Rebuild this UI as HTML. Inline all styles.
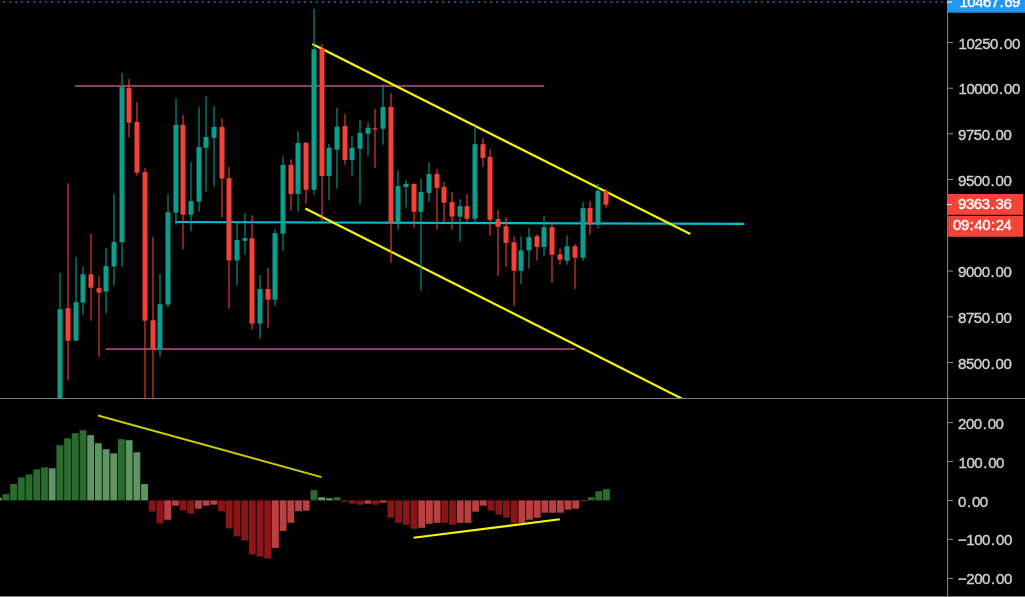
<!DOCTYPE html>
<html><head><meta charset="utf-8"><title>chart</title>
<style>
html,body{margin:0;padding:0;background:#000;overflow:hidden}
svg{display:block}
text{font-family:"Liberation Sans","DejaVu Sans",sans-serif}
.al{font-size:15px;fill:#d0d0d0;stroke:#d0d0d0;stroke-width:0.4px;letter-spacing:-0.45px}
.pl{font-size:15px;fill:#fff;stroke:#fff;stroke-width:0.4px;letter-spacing:-0.45px}
</style></head><body>
<svg width="1025" height="597" viewBox="0 0 1025 597">
<rect width="1025" height="597" fill="#000"/>
<defs><clipPath id="mp"><rect x="0" y="0" width="947" height="398.3"/></clipPath></defs>
<!-- dotted price line -->
<line x1="3.25" y1="2" x2="947" y2="2" stroke="#185a90" stroke-width="2" stroke-dasharray="1.9 4.113"/>
<g clip-path="url(#mp)">
<!-- horizontal levels -->
<rect x="75" y="85" width="469.2" height="2.1" fill="#883e68"/>
<rect x="105.7" y="348" width="469.3" height="2.1" fill="#883e68"/>
<line x1="175" y1="222" x2="744.1" y2="223.9" stroke="#00bcd4" stroke-width="2.1"/>
<line x1="312.3" y1="44.1" x2="690.3" y2="234" stroke="#f7f700" stroke-width="2.2"/>
<line x1="305.3" y1="208.4" x2="683" y2="399.2" stroke="#f7f700" stroke-width="2.2"/>
<rect x="59.10" y="273.0" width="1.8" height="125.5" fill="#0d9d8c" opacity="0.6"/>
<rect x="57.50" y="309.2" width="5.0" height="89.3" fill="#0d9d8c"/>
<rect x="67.10" y="183.1" width="1.8" height="197.5" fill="#f44336" opacity="0.6"/>
<rect x="65.50" y="308.2" width="5.0" height="32.5" fill="#f44336"/>
<rect x="75.10" y="257.1" width="1.8" height="83.6" fill="#0d9d8c" opacity="0.6"/>
<rect x="73.50" y="302.2" width="5.0" height="38.5" fill="#0d9d8c"/>
<rect x="82.10" y="266.1" width="1.8" height="48.5" fill="#0d9d8c" opacity="0.6"/>
<rect x="80.50" y="274.3" width="5.0" height="28.3" fill="#0d9d8c"/>
<rect x="90.10" y="234.0" width="1.8" height="86.7" fill="#f44336" opacity="0.6"/>
<rect x="88.50" y="274.3" width="5.0" height="13.4" fill="#f44336"/>
<rect x="98.10" y="276.0" width="1.8" height="80.8" fill="#f44336" opacity="0.6"/>
<rect x="96.50" y="288.1" width="5.0" height="4.6" fill="#f44336"/>
<rect x="105.10" y="248.0" width="1.8" height="65.6" fill="#0d9d8c" opacity="0.6"/>
<rect x="103.50" y="266.1" width="5.0" height="25.4" fill="#0d9d8c"/>
<rect x="113.10" y="194.2" width="1.8" height="91.3" fill="#0d9d8c" opacity="0.6"/>
<rect x="111.50" y="242.0" width="5.0" height="24.5" fill="#0d9d8c"/>
<rect x="121.10" y="73.1" width="1.8" height="193.4" fill="#0d9d8c" opacity="0.6"/>
<rect x="119.50" y="87.1" width="5.0" height="155.3" fill="#0d9d8c"/>
<rect x="128.10" y="79.1" width="1.8" height="58.3" fill="#f44336" opacity="0.6"/>
<rect x="126.50" y="88.1" width="5.0" height="34.6" fill="#f44336"/>
<rect x="136.10" y="102.2" width="1.8" height="73.4" fill="#f44336" opacity="0.6"/>
<rect x="134.50" y="121.9" width="5.0" height="50.8" fill="#f44336"/>
<rect x="144.10" y="168.0" width="1.8" height="230.5" fill="#f44336" opacity="0.6"/>
<rect x="142.50" y="172.1" width="5.0" height="148.6" fill="#f44336"/>
<rect x="152.10" y="237.0" width="1.8" height="161.5" fill="#f44336" opacity="0.6"/>
<rect x="150.50" y="320.3" width="5.0" height="29.5" fill="#f44336"/>
<rect x="159.10" y="274.0" width="1.8" height="82.8" fill="#0d9d8c" opacity="0.6"/>
<rect x="157.50" y="304.2" width="5.0" height="45.6" fill="#0d9d8c"/>
<rect x="167.10" y="194.2" width="1.8" height="113.4" fill="#0d9d8c" opacity="0.6"/>
<rect x="165.50" y="212.3" width="5.0" height="92.3" fill="#0d9d8c"/>
<rect x="175.10" y="98.2" width="1.8" height="126.5" fill="#0d9d8c" opacity="0.6"/>
<rect x="173.50" y="124.9" width="5.0" height="87.8" fill="#0d9d8c"/>
<rect x="182.10" y="114.9" width="1.8" height="134.5" fill="#f44336" opacity="0.6"/>
<rect x="180.50" y="124.9" width="5.0" height="89.8" fill="#f44336"/>
<rect x="190.10" y="162.0" width="1.8" height="69.4" fill="#0d9d8c" opacity="0.6"/>
<rect x="188.50" y="201.2" width="5.0" height="13.5" fill="#0d9d8c"/>
<rect x="198.10" y="107.2" width="1.8" height="104.5" fill="#0d9d8c" opacity="0.6"/>
<rect x="196.50" y="147.0" width="5.0" height="54.6" fill="#0d9d8c"/>
<rect x="205.10" y="96.2" width="1.8" height="95.4" fill="#0d9d8c" opacity="0.6"/>
<rect x="203.50" y="137.0" width="5.0" height="10.8" fill="#0d9d8c"/>
<rect x="213.10" y="106.2" width="1.8" height="80.3" fill="#0d9d8c" opacity="0.6"/>
<rect x="211.50" y="126.9" width="5.0" height="10.9" fill="#0d9d8c"/>
<rect x="221.10" y="118.3" width="1.8" height="99.4" fill="#f44336" opacity="0.6"/>
<rect x="219.50" y="126.9" width="5.0" height="51.6" fill="#f44336"/>
<rect x="228.10" y="167.0" width="1.8" height="141.6" fill="#f44336" opacity="0.6"/>
<rect x="226.50" y="178.1" width="5.0" height="82.4" fill="#f44336"/>
<rect x="236.10" y="222.3" width="1.8" height="63.2" fill="#0d9d8c" opacity="0.6"/>
<rect x="234.50" y="240.0" width="5.0" height="20.5" fill="#0d9d8c"/>
<rect x="244.10" y="213.3" width="1.8" height="41.3" fill="#0d9d8c" opacity="0.6"/>
<rect x="242.50" y="238.1" width="5.0" height="2.7" fill="#0d9d8c"/>
<rect x="251.10" y="215.2" width="1.8" height="114.4" fill="#f44336" opacity="0.6"/>
<rect x="249.50" y="238.3" width="5.0" height="85.3" fill="#f44336"/>
<rect x="259.10" y="275.0" width="1.8" height="63.6" fill="#0d9d8c" opacity="0.6"/>
<rect x="257.50" y="289.0" width="5.0" height="34.6" fill="#0d9d8c"/>
<rect x="267.10" y="267.9" width="1.8" height="59.7" fill="#f44336" opacity="0.6"/>
<rect x="265.50" y="289.0" width="5.0" height="10.7" fill="#f44336"/>
<rect x="274.10" y="229.1" width="1.8" height="76.6" fill="#0d9d8c" opacity="0.6"/>
<rect x="272.50" y="233.2" width="5.0" height="66.5" fill="#0d9d8c"/>
<rect x="282.10" y="156.3" width="1.8" height="94.4" fill="#0d9d8c" opacity="0.6"/>
<rect x="280.50" y="164.9" width="5.0" height="68.7" fill="#0d9d8c"/>
<rect x="290.10" y="159.3" width="1.8" height="51.2" fill="#f44336" opacity="0.6"/>
<rect x="288.50" y="164.9" width="5.0" height="29.0" fill="#f44336"/>
<rect x="297.10" y="131.2" width="1.8" height="80.3" fill="#0d9d8c" opacity="0.6"/>
<rect x="295.50" y="142.8" width="5.0" height="51.1" fill="#0d9d8c"/>
<rect x="305.10" y="141.8" width="1.8" height="61.9" fill="#f44336" opacity="0.6"/>
<rect x="303.50" y="142.8" width="5.0" height="47.0" fill="#f44336"/>
<rect x="313.10" y="9.0" width="1.8" height="185.9" fill="#0d9d8c" opacity="0.6"/>
<rect x="311.50" y="49.2" width="5.0" height="140.6" fill="#0d9d8c"/>
<rect x="321.10" y="44.2" width="1.8" height="177.3" fill="#f44336" opacity="0.6"/>
<rect x="319.50" y="48.6" width="5.0" height="127.4" fill="#f44336"/>
<rect x="328.10" y="143.8" width="1.8" height="56.7" fill="#0d9d8c" opacity="0.6"/>
<rect x="326.50" y="147.8" width="5.0" height="28.2" fill="#0d9d8c"/>
<rect x="336.10" y="108.0" width="1.8" height="80.8" fill="#0d9d8c" opacity="0.6"/>
<rect x="334.50" y="126.7" width="5.0" height="23.1" fill="#0d9d8c"/>
<rect x="344.10" y="114.1" width="1.8" height="50.6" fill="#f44336" opacity="0.6"/>
<rect x="342.50" y="126.1" width="5.0" height="33.8" fill="#f44336"/>
<rect x="351.10" y="136.2" width="1.8" height="39.8" fill="#0d9d8c" opacity="0.6"/>
<rect x="349.50" y="147.8" width="5.0" height="12.1" fill="#0d9d8c"/>
<rect x="359.10" y="120.1" width="1.8" height="83.7" fill="#0d9d8c" opacity="0.6"/>
<rect x="357.50" y="132.8" width="5.0" height="16.0" fill="#0d9d8c"/>
<rect x="367.10" y="122.1" width="1.8" height="33.8" fill="#0d9d8c" opacity="0.6"/>
<rect x="365.50" y="127.7" width="5.0" height="6.1" fill="#0d9d8c"/>
<rect x="374.10" y="109.0" width="1.8" height="58.9" fill="#f44336" opacity="0.6"/>
<rect x="372.50" y="128.2" width="5.0" height="1.2" fill="#f44336"/>
<rect x="382.10" y="84.4" width="1.8" height="60.4" fill="#0d9d8c" opacity="0.6"/>
<rect x="380.50" y="107.0" width="5.0" height="21.7" fill="#0d9d8c"/>
<rect x="390.10" y="93.1" width="1.8" height="169.6" fill="#f44336" opacity="0.6"/>
<rect x="388.50" y="107.0" width="5.0" height="115.5" fill="#f44336"/>
<rect x="397.10" y="170.4" width="1.8" height="59.3" fill="#0d9d8c" opacity="0.6"/>
<rect x="395.50" y="186.0" width="5.0" height="36.5" fill="#0d9d8c"/>
<rect x="405.10" y="180.0" width="1.8" height="27.5" fill="#0d9d8c" opacity="0.6"/>
<rect x="403.50" y="184.0" width="5.0" height="3.0" fill="#0d9d8c"/>
<rect x="413.10" y="183.0" width="1.8" height="44.7" fill="#f44336" opacity="0.6"/>
<rect x="411.50" y="184.0" width="5.0" height="27.8" fill="#f44336"/>
<rect x="420.10" y="179.0" width="1.8" height="111.9" fill="#0d9d8c" opacity="0.6"/>
<rect x="418.50" y="192.1" width="5.0" height="19.7" fill="#0d9d8c"/>
<rect x="428.10" y="162.3" width="1.8" height="39.5" fill="#0d9d8c" opacity="0.6"/>
<rect x="426.50" y="174.0" width="5.0" height="18.9" fill="#0d9d8c"/>
<rect x="436.10" y="168.9" width="1.8" height="60.7" fill="#f44336" opacity="0.6"/>
<rect x="434.50" y="174.0" width="5.0" height="13.8" fill="#f44336"/>
<rect x="443.10" y="182.0" width="1.8" height="40.6" fill="#f44336" opacity="0.6"/>
<rect x="441.50" y="186.8" width="5.0" height="15.8" fill="#f44336"/>
<rect x="451.10" y="192.0" width="1.8" height="37.6" fill="#f44336" opacity="0.6"/>
<rect x="449.50" y="202.1" width="5.0" height="14.6" fill="#f44336"/>
<rect x="459.10" y="199.0" width="1.8" height="42.7" fill="#0d9d8c" opacity="0.6"/>
<rect x="457.50" y="206.1" width="5.0" height="10.6" fill="#0d9d8c"/>
<rect x="466.10" y="194.0" width="1.8" height="27.6" fill="#f44336" opacity="0.6"/>
<rect x="464.50" y="206.1" width="5.0" height="12.7" fill="#f44336"/>
<rect x="474.10" y="126.1" width="1.8" height="96.1" fill="#0d9d8c" opacity="0.6"/>
<rect x="472.50" y="144.2" width="5.0" height="74.5" fill="#0d9d8c"/>
<rect x="482.10" y="138.2" width="1.8" height="28.7" fill="#f44336" opacity="0.6"/>
<rect x="480.50" y="144.2" width="5.0" height="13.7" fill="#f44336"/>
<rect x="489.10" y="149.2" width="1.8" height="86.4" fill="#f44336" opacity="0.6"/>
<rect x="487.50" y="156.9" width="5.0" height="62.8" fill="#f44336"/>
<rect x="497.10" y="210.1" width="1.8" height="65.7" fill="#f44336" opacity="0.6"/>
<rect x="495.50" y="219.1" width="5.0" height="7.7" fill="#f44336"/>
<rect x="505.10" y="217.1" width="1.8" height="49.7" fill="#f44336" opacity="0.6"/>
<rect x="503.50" y="226.2" width="5.0" height="16.7" fill="#f44336"/>
<rect x="513.10" y="236.2" width="1.8" height="69.8" fill="#f44336" opacity="0.6"/>
<rect x="511.50" y="242.3" width="5.0" height="28.5" fill="#f44336"/>
<rect x="520.10" y="236.2" width="1.8" height="47.7" fill="#0d9d8c" opacity="0.6"/>
<rect x="518.50" y="250.3" width="5.0" height="20.5" fill="#0d9d8c"/>
<rect x="528.10" y="228.2" width="1.8" height="40.6" fill="#0d9d8c" opacity="0.6"/>
<rect x="526.50" y="237.2" width="5.0" height="13.1" fill="#0d9d8c"/>
<rect x="536.10" y="234.2" width="1.8" height="26.6" fill="#f44336" opacity="0.6"/>
<rect x="534.50" y="236.2" width="5.0" height="10.7" fill="#f44336"/>
<rect x="543.10" y="216.1" width="1.8" height="39.6" fill="#0d9d8c" opacity="0.6"/>
<rect x="541.50" y="227.2" width="5.0" height="19.7" fill="#0d9d8c"/>
<rect x="551.10" y="222.2" width="1.8" height="60.7" fill="#f44336" opacity="0.6"/>
<rect x="549.50" y="227.2" width="5.0" height="27.5" fill="#f44336"/>
<rect x="559.10" y="248.3" width="1.8" height="16.5" fill="#f44336" opacity="0.6"/>
<rect x="557.50" y="254.3" width="5.0" height="5.4" fill="#f44336"/>
<rect x="566.10" y="235.2" width="1.8" height="29.6" fill="#0d9d8c" opacity="0.6"/>
<rect x="564.50" y="246.3" width="5.0" height="14.5" fill="#0d9d8c"/>
<rect x="574.10" y="243.9" width="1.8" height="45.0" fill="#f44336" opacity="0.6"/>
<rect x="572.50" y="246.3" width="5.0" height="11.4" fill="#f44336"/>
<rect x="582.10" y="202.1" width="1.8" height="58.7" fill="#0d9d8c" opacity="0.6"/>
<rect x="580.50" y="208.1" width="5.0" height="49.6" fill="#0d9d8c"/>
<rect x="589.10" y="201.1" width="1.8" height="33.5" fill="#f44336" opacity="0.6"/>
<rect x="587.50" y="208.1" width="5.0" height="16.5" fill="#f44336"/>
<rect x="597.10" y="184.0" width="1.8" height="44.6" fill="#0d9d8c" opacity="0.6"/>
<rect x="595.50" y="191.0" width="5.0" height="33.6" fill="#0d9d8c"/>
<rect x="605.10" y="189.0" width="1.8" height="18.8" fill="#f44336" opacity="0.6"/>
<rect x="603.50" y="191.0" width="5.0" height="13.7" fill="#f44336"/>
</g>
<!-- MACD -->
<rect x="0.00" y="497.5" width="1.68" height="2.9" fill="#5e9662"/>
<rect x="2.53" y="494.1" width="6.85" height="6.3" fill="#2b6b2e"/>
<rect x="10.23" y="484.0" width="6.85" height="16.4" fill="#2b6b2e"/>
<rect x="17.93" y="477.4" width="6.85" height="23.0" fill="#2b6b2e"/>
<rect x="25.62" y="474.4" width="6.85" height="26.0" fill="#2b6b2e"/>
<rect x="33.32" y="469.3" width="6.85" height="31.1" fill="#2b6b2e"/>
<rect x="41.02" y="467.3" width="6.85" height="33.1" fill="#2b6b2e"/>
<rect x="48.72" y="468.3" width="6.85" height="32.1" fill="#5e9662"/>
<rect x="56.42" y="445.2" width="6.85" height="55.2" fill="#2b6b2e"/>
<rect x="64.12" y="438.2" width="6.85" height="62.2" fill="#2b6b2e"/>
<rect x="71.82" y="433.2" width="6.85" height="67.2" fill="#2b6b2e"/>
<rect x="79.52" y="430.2" width="6.85" height="70.2" fill="#2b6b2e"/>
<rect x="87.22" y="435.2" width="6.85" height="65.2" fill="#5e9662"/>
<rect x="94.91" y="443.2" width="6.85" height="57.2" fill="#5e9662"/>
<rect x="102.61" y="449.2" width="6.85" height="51.2" fill="#5e9662"/>
<rect x="110.31" y="453.3" width="6.85" height="47.1" fill="#5e9662"/>
<rect x="118.01" y="439.2" width="6.85" height="61.2" fill="#2b6b2e"/>
<rect x="125.71" y="440.2" width="6.85" height="60.2" fill="#5e9662"/>
<rect x="133.41" y="452.3" width="6.85" height="48.1" fill="#5e9662"/>
<rect x="141.11" y="484.1" width="6.85" height="16.3" fill="#5e9662"/>
<rect x="148.81" y="500.4" width="6.85" height="11.0" fill="#8a1416"/>
<rect x="156.51" y="500.4" width="6.85" height="23.0" fill="#8a1416"/>
<rect x="164.21" y="500.4" width="6.85" height="19.3" fill="#b94040"/>
<rect x="171.91" y="500.4" width="6.85" height="5.3" fill="#b94040"/>
<rect x="179.60" y="500.4" width="6.85" height="10.0" fill="#8a1416"/>
<rect x="187.30" y="500.4" width="6.85" height="13.3" fill="#8a1416"/>
<rect x="195.00" y="500.4" width="6.85" height="8.3" fill="#b94040"/>
<rect x="202.70" y="500.4" width="6.85" height="5.3" fill="#b94040"/>
<rect x="210.40" y="500.4" width="6.85" height="4.3" fill="#b94040"/>
<rect x="218.10" y="500.4" width="6.85" height="10.9" fill="#8a1416"/>
<rect x="225.80" y="500.4" width="6.85" height="28.0" fill="#8a1416"/>
<rect x="233.50" y="500.4" width="6.85" height="36.0" fill="#8a1416"/>
<rect x="241.20" y="500.4" width="6.85" height="40.1" fill="#8a1416"/>
<rect x="248.90" y="500.4" width="6.85" height="54.1" fill="#8a1416"/>
<rect x="256.59" y="500.4" width="6.85" height="56.1" fill="#8a1416"/>
<rect x="264.29" y="500.4" width="6.85" height="58.1" fill="#8a1416"/>
<rect x="271.99" y="500.4" width="6.85" height="47.5" fill="#b94040"/>
<rect x="279.69" y="500.4" width="6.85" height="30.5" fill="#b94040"/>
<rect x="287.39" y="500.4" width="6.85" height="22.4" fill="#b94040"/>
<rect x="295.09" y="500.4" width="6.85" height="10.9" fill="#b94040"/>
<rect x="302.79" y="500.4" width="6.85" height="10.3" fill="#b94040"/>
<rect x="310.49" y="490.2" width="6.85" height="10.2" fill="#2b6b2e"/>
<rect x="318.19" y="497.2" width="6.85" height="3.2" fill="#5e9662"/>
<rect x="325.88" y="498.2" width="6.85" height="2.2" fill="#5e9662"/>
<rect x="333.58" y="497.2" width="6.85" height="3.2" fill="#2b6b2e"/>
<rect x="341.28" y="500.4" width="6.85" height="1.5" fill="#8a1416"/>
<rect x="348.98" y="500.4" width="6.85" height="3.3" fill="#8a1416"/>
<rect x="356.68" y="500.4" width="6.85" height="4.3" fill="#8a1416"/>
<rect x="364.38" y="500.4" width="6.85" height="3.3" fill="#b94040"/>
<rect x="372.08" y="500.4" width="6.85" height="4.3" fill="#8a1416"/>
<rect x="379.78" y="500.4" width="6.85" height="2.3" fill="#b94040"/>
<rect x="387.48" y="500.4" width="6.85" height="17.3" fill="#8a1416"/>
<rect x="395.18" y="500.4" width="6.85" height="22.4" fill="#8a1416"/>
<rect x="402.88" y="500.4" width="6.85" height="24.4" fill="#8a1416"/>
<rect x="410.57" y="500.4" width="6.85" height="28.4" fill="#8a1416"/>
<rect x="418.27" y="500.4" width="6.85" height="27.4" fill="#b94040"/>
<rect x="425.97" y="500.4" width="6.85" height="23.4" fill="#b94040"/>
<rect x="433.67" y="500.4" width="6.85" height="22.4" fill="#b94040"/>
<rect x="441.37" y="500.4" width="6.85" height="22.4" fill="#8a1416"/>
<rect x="449.07" y="500.4" width="6.85" height="24.4" fill="#8a1416"/>
<rect x="456.77" y="500.4" width="6.85" height="22.4" fill="#b94040"/>
<rect x="464.47" y="500.4" width="6.85" height="22.4" fill="#b94040"/>
<rect x="472.17" y="500.4" width="6.85" height="11.3" fill="#b94040"/>
<rect x="479.87" y="500.4" width="6.85" height="5.3" fill="#b94040"/>
<rect x="487.56" y="500.4" width="6.85" height="10.3" fill="#8a1416"/>
<rect x="495.26" y="500.4" width="6.85" height="14.3" fill="#8a1416"/>
<rect x="502.96" y="500.4" width="6.85" height="17.3" fill="#8a1416"/>
<rect x="510.66" y="500.4" width="6.85" height="23.0" fill="#8a1416"/>
<rect x="518.36" y="500.4" width="6.85" height="22.4" fill="#b94040"/>
<rect x="526.06" y="500.4" width="6.85" height="19.3" fill="#b94040"/>
<rect x="533.76" y="500.4" width="6.85" height="17.3" fill="#b94040"/>
<rect x="541.46" y="500.4" width="6.85" height="12.3" fill="#b94040"/>
<rect x="549.16" y="500.4" width="6.85" height="12.3" fill="#b94040"/>
<rect x="556.85" y="500.4" width="6.85" height="12.3" fill="#b94040"/>
<rect x="564.55" y="500.4" width="6.85" height="9.3" fill="#b94040"/>
<rect x="572.25" y="500.4" width="6.85" height="8.3" fill="#b94040"/>
<rect x="579.95" y="500.4" width="6.85" height="0.6" fill="#b94040"/>
<rect x="587.65" y="497.2" width="6.85" height="3.2" fill="#2b6b2e"/>
<rect x="595.35" y="491.2" width="6.85" height="9.2" fill="#2b6b2e"/>
<rect x="603.05" y="489.2" width="6.85" height="11.2" fill="#2b6b2e"/>
<line x1="98" y1="415.5" x2="321.5" y2="477.1" stroke="#cccc00" stroke-width="2.0"/>
<line x1="413.5" y1="537.8" x2="559.8" y2="519.3" stroke="#f7f700" stroke-width="2.1"/>
<!-- separators -->
<rect x="0" y="398" width="1025" height="1" fill="#7e7e7e"/>
<rect x="0" y="596" width="1025" height="1" fill="#7e7e7e"/>
<rect x="947" y="0" width="1.1" height="597" fill="#7e7e7e"/>
<rect x="948" y="42.0" width="5" height="1" fill="#8a8a8a"/>
<text x="958.5" y="48.5" class="al">10250<tspan dx="1.0">.</tspan><tspan dx="1.3">00</tspan></text>
<rect x="948" y="87.7" width="5" height="1" fill="#8a8a8a"/>
<text x="958.5" y="94.2" class="al">10000<tspan dx="1.0">.</tspan><tspan dx="1.3">00</tspan></text>
<rect x="948" y="133.3" width="5" height="1" fill="#8a8a8a"/>
<text x="958" y="139.8" class="al">9750<tspan dx="1.0">.</tspan><tspan dx="1.3">00</tspan></text>
<rect x="948" y="179.0" width="5" height="1" fill="#8a8a8a"/>
<text x="958" y="185.5" class="al">9500<tspan dx="1.0">.</tspan><tspan dx="1.3">00</tspan></text>
<rect x="948" y="270.5" width="5" height="1" fill="#8a8a8a"/>
<text x="958" y="277.0" class="al">9000<tspan dx="1.0">.</tspan><tspan dx="1.3">00</tspan></text>
<rect x="948" y="316.3" width="5" height="1" fill="#8a8a8a"/>
<text x="958" y="322.8" class="al">8750<tspan dx="1.0">.</tspan><tspan dx="1.3">00</tspan></text>
<rect x="948" y="362.0" width="5" height="1" fill="#8a8a8a"/>
<text x="958" y="368.5" class="al">8500<tspan dx="1.0">.</tspan><tspan dx="1.3">00</tspan></text>
<rect x="948" y="422.1" width="5" height="1" fill="#8a8a8a"/>
<text x="958" y="428.6" class="al">200<tspan dx="1.0">.</tspan><tspan dx="1.3">00</tspan></text>
<rect x="948" y="461.0" width="5" height="1" fill="#8a8a8a"/>
<text x="958.5" y="467.5" class="al">100<tspan dx="1.0">.</tspan><tspan dx="1.3">00</tspan></text>
<rect x="948" y="500.0" width="5" height="1" fill="#8a8a8a"/>
<text x="958" y="506.5" class="al">0<tspan dx="1.0">.</tspan><tspan dx="1.3">00</tspan></text>
<rect x="948" y="538.9" width="5" height="1" fill="#8a8a8a"/>
<text x="958" y="545.4" class="al">−100<tspan dx="1.0">.</tspan><tspan dx="1.3">00</tspan></text>
<rect x="948" y="577.9" width="5" height="1" fill="#8a8a8a"/>
<text x="958" y="584.4" class="al">−200<tspan dx="1.0">.</tspan><tspan dx="1.3">00</tspan></text>
<!-- price labels -->
<rect x="947" y="-9" width="78" height="21.7" fill="#2196f3"/>
<rect x="947" y="1.6" width="5" height="1.1" fill="#fff"/>
<text x="959.4" y="6.5" class="pl">10467<tspan dx="0.7">.</tspan><tspan dx="0.9">69</tspan></text>
<rect x="947" y="194" width="76" height="20.8" fill="#f44336"/>
<rect x="947" y="204" width="5" height="1" fill="#fff"/>
<text x="958" y="208.6" class="pl">9363<tspan dx="1.0">.</tspan><tspan dx="1.3">36</tspan></text>
<rect x="948.2" y="216" width="74.8" height="20.8" fill="#f44336"/>
<text x="953" y="230.2" class="pl">09<tspan dx="0.8">:</tspan><tspan dx="1.0">40</tspan><tspan dx="0.8">:</tspan><tspan dx="1.0">24</tspan></text>
</svg>
</body></html>
